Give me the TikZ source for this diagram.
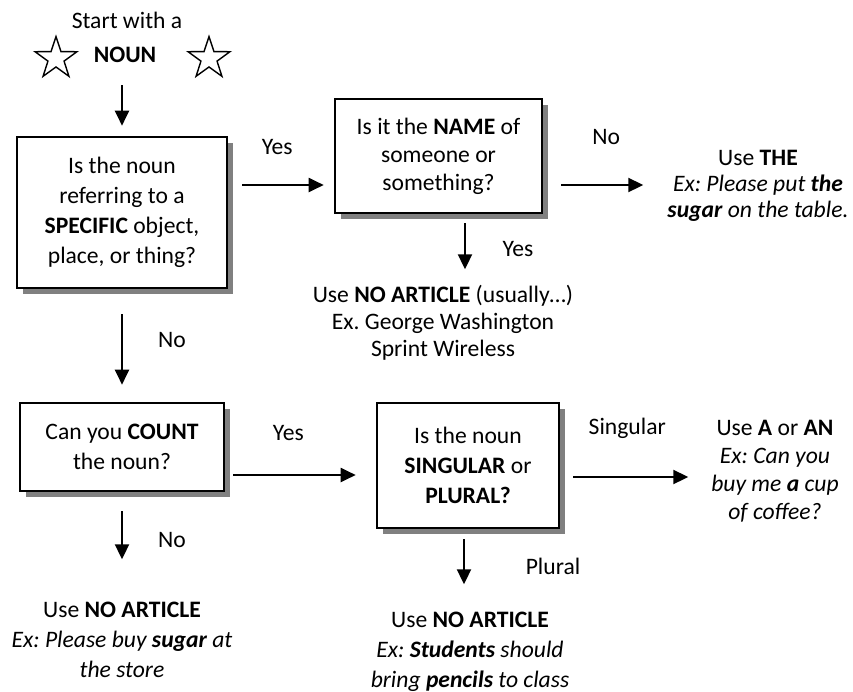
\documentclass[tikz,border=0pt]{standalone}
\usepackage{fontspec}
\setmainfont{Carlito}
\usetikzlibrary{shapes.geometric,shadows,arrows.meta}
\frenchspacing

\begin{document}
\begin{tikzpicture}[x=0.5pt,y=-0.5pt,
			qbox/.style={draw, line width = 1.3pt, fill=white, align=center, inner sep=0pt, font=\fontsize{11.8}{15}\selectfont, drop shadow={shadow xshift=3pt, shadow yshift=-3pt, fill=gray, opacity=1}},
			txt/.style={align=center, inner sep=0pt, font=\fontsize{11.8}{15}\selectfont},
			lbl/.style={inner sep=0pt, font=\fontsize{11.8}{13}\selectfont},
			arr/.style={line width = 1pt, -{Triangle[length=7.5pt,width=7pt]}},
			hollowstar/.style={star, star points=5, star point ratio=2.6, draw, line width = 0.7pt, minimum size=22pt, inner sep=0pt}
		]
		\useasboundingbox (0,0) rectangle (853,692);

		\node[txt] (start) at (127,20) {Start with a};
		\node[txt] (noun) at (125,55) {\textbf{NOUN}};
		\node[hollowstar] (starl) at (56,58.5) {};
		\node[hollowstar] (starr) at (209,58.5) {};

		\node[qbox, minimum width=105pt, minimum height=75.5pt] (q1) at (122,212.5) {Is the noun\\referring to a\\\textbf{SPECIFIC} object,\\place, or thing?};
		\node[qbox, minimum width=103.5pt, minimum height=57pt, font=\fontsize{11.8}{14}\selectfont] (q2) at (438.5,156) {Is it the \textbf{NAME} of\\someone or\\something?};
		\node[qbox, minimum width=102pt, minimum height=44pt] (q3) at (122,447) {Can you \textbf{COUNT}\\the noun?};
		\node[qbox, minimum width=91pt, minimum height=62.5pt] (q4) at (468,465.5) {Is the noun\\\textbf{SINGULAR} or\\\textbf{PLURAL?}};

		\node[txt, font=\fontsize{11.8}{13}\selectfont] (usethe) at (758,186) {Use \textbf{THE}\\\textit{Ex: Please put \textbf{the}}\\\textit{\textbf{sugar} on the table.}};
		\node[txt, font=\fontsize{11.8}{13.5}\selectfont] (noart1) at (443,323) {Use \textbf{NO ARTICLE} (usually…)\\Ex. George Washington\\Sprint Wireless};
		\node[txt, font=\fontsize{11.8}{14}\selectfont] (usean) at (775,471.5) {Use \textbf{A} or \textbf{AN}\\\textit{Ex: Can you}\\\textit{buy me \textbf{a} cup}\\\textit{of coffee?}};
		\node[txt] (noart2) at (122,640) {Use \textbf{NO ARTICLE}\\\textit{Ex: Please buy \textbf{sugar} at}\\\textit{the store}};
		\node[txt] (noart3) at (470,651.5) {Use \textbf{NO ARTICLE}\\\textit{Ex: \textbf{Students} should}\\\textit{bring \textbf{pencils} to class}};

		\draw[arr] (noun -| q1) ++(0,30) -- ([yshift=5pt]q1.north);
		\draw[arr] ([xshift=7pt,yshift=13.75pt]q1.east) -- node[lbl, pos=.43, yshift=19pt] {Yes} ([xshift=-5pt,yshift=-14.5pt]q2.west);
		\draw[arr] ([xshift=13.25pt,yshift=-4.5pt]q2.south) -- node[lbl, midway, xshift=26.5pt, yshift=-1.5pt] {Yes} ++(0,46);
		\draw[arr] ([xshift=9pt,yshift=-14.5pt]q2.east) -- node[lbl, midway, xshift=2pt, yshift=24pt] {No} ++(82,0);
		\draw[arr] ([yshift=-12.5pt]q1.south) -- node[lbl, midway, xshift=25pt, yshift=4.75pt] {No} ([yshift=8.5pt]q3.north);
		\draw[arr] ([xshift=4pt,yshift=-14pt]q3.east) -- node[lbl, pos=.45, yshift=21pt] {Yes} ([xshift=-10pt,yshift=-4.75pt]q4.west);
		\draw[arr] ([yshift=-9.5pt]q3.south) -- node[lbl, midway, xshift=25pt, yshift=-2.5pt] {No} ++(0,48);
		\draw[arr] ([xshift=6.5pt,yshift=-5.75pt]q4.east) -- node[lbl, midway, xshift=-1.75pt, yshift=24.5pt] {Singular} ++(115,0);
		\draw[arr] ([xshift=-2pt,yshift=-5pt]q4.south) -- node[lbl, midway, xshift=44.5pt, yshift=-2.25pt] {Plural} ++(0,45);
	\end{tikzpicture}
\end{document}
